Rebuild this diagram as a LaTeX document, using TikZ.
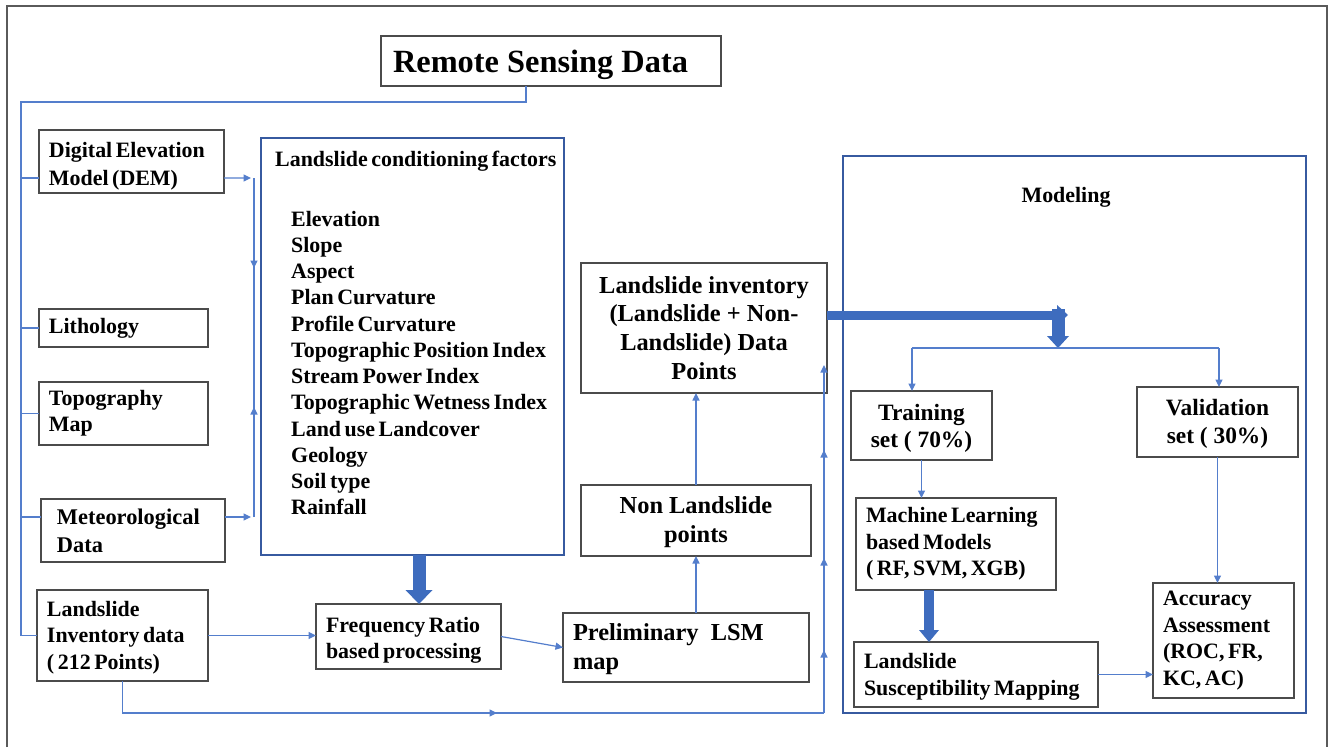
\documentclass[tikz,border=0pt]{standalone}
\usepackage{fontspec}
\setmainfont{Liberation Serif}
\newfontfamily\tightserif[WordSpace=0.65]{Liberation Serif}
\usetikzlibrary{arrows.meta,calc}
\definecolor{framegray}{RGB}{90,90,90}
\definecolor{boxgray}{RGB}{75,75,75}
\definecolor{panelblue}{RGB}{55,90,160}
\definecolor{linkblue}{RGB}{84,126,204}
\definecolor{fatblue}{RGB}{62,108,190}
\begin{document}
\begin{tikzpicture}[x=1bp,y=-1bp,
  box/.style={draw=boxgray,line width=1.3bp,inner xsep=10bp,inner ysep=0pt,outer sep=0pt,
    font=\tightserif\fontsize{22}{26.5}\selectfont\bfseries,align=flush left},
  bigbox/.style={box,font=\rmfamily\fontsize{24.5}{29}\selectfont\bfseries},
  midbox/.style={box,font=\rmfamily\fontsize{23.5}{28}\selectfont\bfseries,align=flush center},
  panel/.style={draw=panelblue,line width=2bp,inner sep=0pt,outer sep=0pt},
  factor/.style={font=\tightserif\fontsize{22}{26}\selectfont\bfseries,inner sep=0pt,anchor=base west},
  textdrop/.style={execute at begin node={\rule{0pt}{#1}}},
  link/.style={draw=linkblue,line width=1.2bp},
  arr/.style={-{Triangle[length=7.5bp,width=7bp]}},
]
\useasboundingbox (0,0) rectangle (1331,747);

% outer frame
\draw[framegray,line width=1.6bp] (7,747) -- (7,6) -- (1327,6) -- (1327,747);

% data sources
\node[box,minimum width=340bp,minimum height=50bp,text width=316bp,inner xsep=12bp,
  font=\rmfamily\fontsize{32.5}{36}\selectfont\bfseries,textdrop=30bp] (rsd) at (551,61) {Remote Sensing Data};
\node[box,minimum width=185bp,minimum height=63bp,text width=165bp,
  font=\tightserif\fontsize{22}{28}\selectfont\bfseries,textdrop=24bp] (dem) at (131.5,161.5) {Digital Elevation\\Model (DEM)};
\node[box,minimum width=169bp,minimum height=38bp,text width=149bp] (lith) at (123.5,328) {Lithology};
\node[box,minimum width=169bp,minimum height=63bp,text width=149bp] (topo) at (123.5,413.5) {Topography\\Map};
\node[box,minimum width=184bp,minimum height=63bp,inner xsep=16bp,text width=152bp,
  font=\tightserif\fontsize{22.5}{28}\selectfont\bfseries] (met) at (133,530.5) {Meteorological\\Data};
\node[box,minimum width=171bp,minimum height=91bp,text width=151bp,textdrop=19bp] (lid) at (122.5,635.5) {Landslide\\Inventory data\\( 212 Points)};

% conditioning factors panel
\node[panel,minimum width=303bp,minimum height=417bp] (lcf) at (412.5,346.5) {};
\node[factor] (lcftitle) at (275,166) {Landslide conditioning factors};
\foreach \txt [count=\i] in {Elevation,Slope,Aspect,Plan Curvature,Profile Curvature,
  Topographic Position Index,Stream Power Index,Topographic Wetness Index,
  Land use Landcover,Geology,Soil type,Rainfall}
  \node[factor] (fac\i) at (291,{226+26.27*(\i-1)}) {\txt};

% processing chain
\node[box,minimum width=185bp,minimum height=65bp,text width=165bp,textdrop=23bp] (fr) at (408.5,636.5) {Frequency Ratio\\based processing};
\node[bigbox,minimum width=246bp,minimum height=69bp,text width=226bp,textdrop=21bp] (prelim) at (686,647.5) {Preliminary\ \ LSM\\map};
\node[bigbox,align=flush center,minimum width=230bp,minimum height=71bp,text width=210bp,textdrop=21bp] (nonls) at (696,520.5) {Non Landslide\\points};
\node[bigbox,align=flush center,minimum width=246bp,minimum height=130bp,text width=226bp] (linv) at (704,328) {Landslide inventory\\(Landslide + Non-\\Landslide) Data\\Points};

% modelling panel
\node[panel,minimum width=463bp,minimum height=557bp] (model) at (1074.5,434.5) {};
\node[font=\fontsize{22}{26}\selectfont\bfseries,inner sep=0pt,anchor=base] (modeltitle) at (1066,202) {Modeling};
\node[midbox,minimum width=141bp,minimum height=69bp,text width=121bp,textdrop=22bp] (train) at (921.5,425.5) {Training\\set ( 70\%)};
\node[midbox,minimum width=161bp,minimum height=70bp,text width=141bp,textdrop=20bp] (valid) at (1217.5,422) {Validation\\set ( 30\%)};
\node[box,minimum width=200bp,minimum height=92bp,text width=180bp] (ml) at (956,544) {Machine Learning\\based Models\\( RF, SVM, XGB)};
\node[box,minimum width=244bp,minimum height=65bp,text width=224bp,textdrop=20bp] (lsm) at (976,674.5) {Landslide\\Susceptibility Mapping};
\node[box,minimum width=141bp,minimum height=115bp,text width=121bp] (acc) at (1223.5,640.5) {Accuracy\\Assessment\\(ROC, FR,\\KC, AC)};

% distribution bus from the remote sensing data
\coordinate (busTop) at (21,102);
\coordinate (busEnd) at (21,635.5);
\coordinate (demIn) at ($(dem.west)+(0,16.5)$);
\coordinate (demOut) at ($(dem.east)+(0,16.5)$);
\coordinate (metIn) at ($(met.west)+(0,-13.5)$);
\coordinate (metOut) at ($(met.east)+(0,-13.5)$);
\draw[link] ($(rsd.south)+(-25,0)$) |- (busTop) -- (busEnd);
\draw[link] (busTop |- demIn) -- (demIn);
\draw[link] (busTop |- lith.west) -- (lith.west);
\draw[link] (busTop |- topo.west) -- (topo.west);
\draw[link] (busTop |- metIn) -- (metIn);
\draw[link] (busTop |- lid.west) -- (lid.west);

% collector bracket beside the factors panel
\coordinate (brTop) at (254,178);
\coordinate (brBot) at (254,517);
\draw[link,arr] (demOut) -- ($(brTop)+(-3,0)$);
\draw[link,arr] (metOut) -- ($(brBot)+(-3,0)$);
\draw[link] (brTop) -- (brBot);
\draw[link,arr] (brTop) -- (254,268);
\draw[link,arr] (brBot) -- (254,407);

% processing connectors
\draw[draw=fatblue,line width=13bp,-{Triangle[length=14bp,width=27bp,line width=0pt]}]
  ($(lcf.south)+(6.5,0)$) -- ($(fr.north)+(10.5,0)$);
\draw[link,arr] (lid.east) -- (lid.east -| fr.west);
\draw[link,arr] (fr.east) -- (prelim.west);
\draw[link,arr] (nonls.south |- prelim.north) -- (nonls.south);
\draw[link,arr] (nonls.north) -- (nonls.north |- linv.south);

% inventory loop to the landslide inventory box
\coordinate (loopB) at (824,713);
\coordinate (loopEnd) at (824,365);
\draw[link] (lid.south) |- (loopB);
\draw[link,arr] (lid.south |- loopB) -- (497,713);
\draw[link,arr] (loopB) -- (loopEnd);
\draw[link,arr] (loopB) -- (824,650);
\draw[link,arr] (loopB) -- (824,558);
\draw[link,arr] (loopB) -- (824,450);

% into the modelling stage
\draw[draw=fatblue,line width=9bp,-{Triangle[length=11bp,width=20bp,line width=0pt]}]
  ($(linv.east)+(0,-13)$) -- (1068,315);
\coordinate (split) at (1058,348);
\draw[draw=fatblue,line width=13bp,-{Triangle[length=12bp,width=22bp,line width=0pt]}]
  (1058,309) -- (split);
\coordinate (spL) at (912,348);
\coordinate (spR) at (1219,348);
\draw[link] (spL) -- (spR);
\draw[link,arr] (spL) -- (spL |- train.north);
\draw[link,arr] (spR) -- (spR |- valid.north);
\draw[link,arr] (train.south) -- (train.south |- ml.north);
\draw[draw=fatblue,line width=10bp,-{Triangle[length=12bp,width=20bp,line width=0pt]}]
  ($(ml.south)+(-27,0)$) -- ($(lsm.north)+(-47,0)$);
\draw[link,arr] (valid.south) -- (valid.south |- acc.north);
\draw[link,arr] (lsm.east) -- (lsm.east -| acc.west);
\end{tikzpicture}
\end{document}
